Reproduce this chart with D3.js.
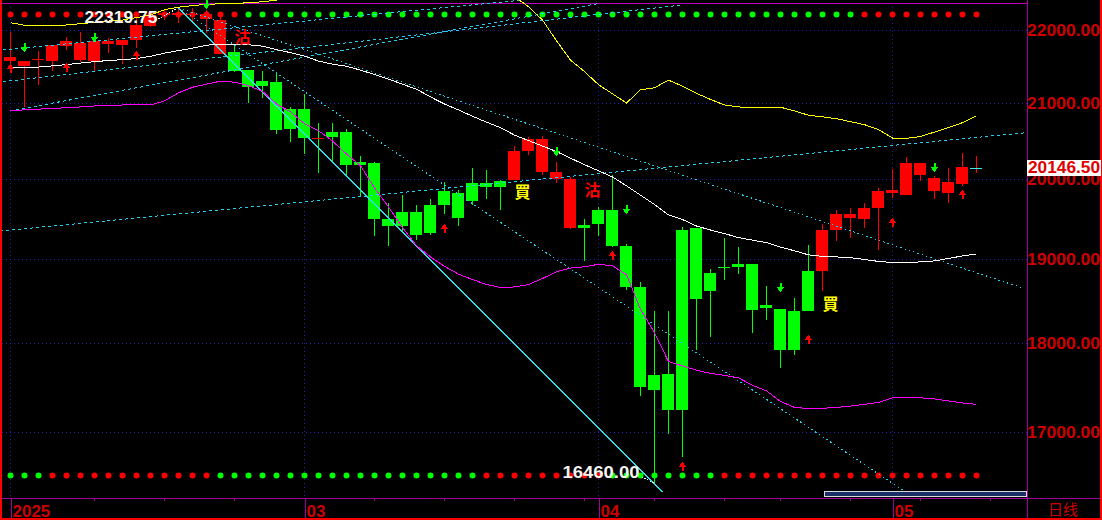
<!DOCTYPE html>
<html><head><meta charset="utf-8">
<script src="https://cdn.jsdelivr.net/npm/d3@7/dist/d3.min.js"></script>
<style>
html,body{margin:0;padding:0;background:#000;overflow:hidden;}
svg{display:block;}
</style></head><body>
<svg id="c" width="1102" height="520"></svg>
<script>
// ---------------- DATA ----------------
const dates = [
 "2025-01-31",
 "2025-02-03","2025-02-04","2025-02-05","2025-02-06","2025-02-07",
 "2025-02-10","2025-02-11","2025-02-12","2025-02-13","2025-02-14",
 "2025-02-17","2025-02-18","2025-02-19","2025-02-20","2025-02-21",
 "2025-02-24","2025-02-25","2025-02-26","2025-02-27","2025-02-28",
 "2025-03-03","2025-03-04","2025-03-05","2025-03-06","2025-03-07",
 "2025-03-10","2025-03-11","2025-03-12","2025-03-13","2025-03-14",
 "2025-03-17","2025-03-18","2025-03-19","2025-03-20","2025-03-21",
 "2025-03-24","2025-03-25","2025-03-26","2025-03-27","2025-03-28",
 "2025-03-31","2025-04-01","2025-04-02","2025-04-03","2025-04-04",
 "2025-04-07","2025-04-08","2025-04-09","2025-04-10","2025-04-11",
 "2025-04-14","2025-04-15","2025-04-16","2025-04-17",
 "2025-04-21","2025-04-22","2025-04-23","2025-04-24","2025-04-25",
 "2025-04-28","2025-04-29","2025-04-30","2025-05-01","2025-05-02",
 "2025-05-05","2025-05-06","2025-05-07","2025-05-08","2025-05-09"
];
const nextSession = "2025-05-12";

const open = [21577,21567,21581,21577,21774,21821,21567,21843,21797,21866,
 22061,22216,22244,22237,22230,22145,21701,21453,21291,21287,
 20919,20919,20532,20616,20616,20213,20209,19486,19586,19586,
 19674,19840,19824,19949,19949,19974,19986,20367,20524,20095,
 19999,19420,19611,19611,19161,18655,17467,17643,17243,19374,
 18611,18900,18940,18940,18441,18394,17924,18370,18856,19361,
 19561,19486,19624,19820,19799,20209,20012,19815,19940,20146.5];
const high = [21981,21577,21705,21797,21903,21977,21852,21890,21866,22216,
 22258,22286,22319.75,22314,22286,22230,21797,21453,21429,21397,
 20949,21122,20735,20735,20652,20301,20213,19699,19799,19674,
 19745,19961,19861,20143,20117,19986,20423,20541,20554,20213,
 20025,19495,19645,20051,19183,18722,18370,18370,19395,19374,
 18880,19261,19149,18940,18667,18394,18524,19174,19424,19599,
 19636,19699,19886,20130,20288,20209,20038,20143,20340,20301];
const low = [21415,20941,21246,21439,21719,21559,21439,21683,21535,21752,
 22047,22145,22099,22121,21959,21666,21415,21001,21071,20590,
 20476,20327,20082,20213,20021,19774,19286,19152,19349,19236,
 19299,19561,19411,19674,19749,19611,19986,20305,20051,19943,
 19368,18979,19278,19150,18619,17400,16460,16978,16734,17924,
 18077,18750,18821,18121,18264,17711,17868,18370,18607,19224,
 19261,19386,19111,19761,19799,19974,19749,19695,19915,20074];
const close = [21632,21498,21600,21788,21852,21590,21843,21807,21866,22075,
 22216,22244,22223,22216,22159,21673,21439,21208,21232,20643,
 20656,20537,20532,20551,20183,20183,19486,19411,19411,19299,
 19320,19674,19511,19715,19902,19902,20367,20524,20095,19999,
 19374,19374,19424,19161,18658,17501,17632,17243,19361,18516,
 18829,18900,18904,18382,18406,17924,18370,18856,19361,19561,
 19499,19624,19849,19853,20209,20051,19849,19961,20156,20146.5];
// trend colouring of candles: r = red, g = green, x = red body / green wick
const candleColor = "rrrrrrrrrrrrrrrr" + "gggggg" + "x" + "ggggggggggggg" + "rrrrr" +
                    "ggggggggggggggggg" + "rrrrrrrrrrrr";

const bollUp = [22107,22072,22061,22065,22075,22093,22113,22131,22145,22180,
 22216,22293,22329,22350,22371,22376,22382,22392,22406,22430,
 22470,22520,22580,22650,22720,22800,22880,22950,22990,23010,
 23000,22970,22920,22850,22740,22620,22480,22336,22145,21852,
 21584,21425,21246,21122,20997,21177,21204,21308,21225,21128,
 21046,20971,20945,20934,20932,20941,20892,20833,20813,20787,
 20748,20708,20643,20531,20528,20551,20610,20669,20735,20827];
const bollMid = [21484,21480,21487,21504,21521,21542,21563,21577,21590,21604,
 21636,21680,21715,21749,21790,21807,21807,21797,21777,21728,
 21687,21639,21570,21528,21498,21446,21384,21322,21253,21184,
 21080,20984,20905,20820,20741,20669,20570,20498,20426,20354,
 20268,20183,20104,20025,19911,19793,19674,19543,19486,19405,
 19355,19311,19261,19230,19199,19143,19099,19049,19030,19024,
 19015,18993,18969,18955,18957,18963,18975,19005,19036,19061];
const bollLow = [20896,20905,20915,20925,20934,20945,20958,20967,20971,20971,
 20971,21025,21135,21211,21253,21294,21280,21232,21156,20984,
 20879,20721,20629,20491,20321,20170,19886,19643,19386,19161,
 19024,18910,18815,18750,18690,18655,18661,18690,18762,18845,
 18889,18904,18934,18916,18809,18394,18121,17789,17739,17691,
 17654,17632,17604,17520,17458,17340,17273,17262,17264,17273,
 17288,17307,17329,17380,17385,17380,17368,17346,17323,17307];

const topDots    = "rrrrrrrrrrrrrrrrr" + "gggggggggggggggggggggggggggggggggggggggggggg" + "rrrrrrrrr";
const bottomDots = "ggg" + "rrrrrrrrrrrr" + "ggggggggggggggggggg" + "rrrrrrrrr" + "gggggggg" + "rrrrrrrrrrrrrrrrrrr";

const downArrows = [{i:1,v:21701},{i:6,v:21839},{i:14,v:22300},{i:39,v:20301},{i:44,v:19549},{i:55,v:18596},{i:66,v:20091}];
const upArrows   = [{i:0,v:21535},{i:4,v:21549},{i:9,v:21715},{i:31,v:19436},{i:43,v:19099},{i:48,v:16676},{i:57,v:18097},{i:63,v:19499},{i:68,v:19861}];
const signals = [{i:16,v:21917,t:"沽"},{i:41,v:19868,t:"沽"},{i:36,v:19849,t:"買"},{i:58,v:18471,t:"買"}];

// trend / speed lines, endpoints in (bar index, price)
const speedLines = [
 {a:{i:12,v:22319.75}, b:{i:46.57,v:16360}, dash:null},
 {a:{i:12,v:22319.75}, b:{i:63.82,v:16372}, dash:"1.5 3"},
 {a:{i:12,v:22319.75}, b:{i:72.3,v:18648}, dash:"1.5 3"}
];
const channelLines = [
 {a:{i:-0.75,v:19342}, b:{i:72.6,v:20603}},
 {a:{i:-0.54,v:21724}, b:{i:36.39,v:22427}},
 {a:{i:-0.54,v:21287}, b:{i:47.82,v:22357}},
 {a:{i:-0.04,v:20892}, b:{i:42.11,v:22385}}
];

const priceTicks = [17000,18000,19000,20000,21000,22000];
const lastPrice = 20146.50;
const highMark = {i:12, v:22319.75};
const lowMark = {i:46, v:16460};

// ---------------- DRAW ----------------
const W = 1102, H = 520, plotR = 1027, axisY = 498;
const svg = d3.select("#c").attr("shape-rendering","crispEdges");
svg.append("rect").attr("width",W).attr("height",H).attr("fill","#000");

const x = d3.scaleLinear().domain([0, 69]).range([10.5, 976.5]);
const y = d3.scaleLog().domain([17000, 22000]).range([432.3, 30.3]);

const RED="#ff0000", GREEN="#00ff00", AXIS="#a000a0", LBL="#cc0000";
const NUMFONT = "bold 17px 'Liberation Sans', Arial, sans-serif";

svg.append("defs").append("clipPath").attr("id","clip")
  .append("rect").attr("x",2).attr("y",0).attr("width",plotR-2).attr("height",axisY);

// horizontal grid
svg.append("g").selectAll("line").data(priceTicks).join("line")
  .attr("x1",2).attr("x2",plotR).attr("y1",d=>Math.round(y(d))+0.5).attr("y2",d=>Math.round(y(d))+0.5)
  .attr("stroke","#2020b0").attr("stroke-dasharray","1 3");

// month & week ticks
const parse = d3.utcParse("%Y-%m-%d");
const allDates = dates.concat([nextSession]).map(parse);
const monthIdx = [], weekIdx = [];
allDates.forEach((d,i)=>{
  const newMonth = i===0 || d.getUTCMonth()!==allDates[i-1].getUTCMonth();
  if (newMonth) {
    if (i<dates.length && (monthIdx.length===0 || i - monthIdx[monthIdx.length-1] >= 5)) monthIdx.push(i);
  } else if (d.getUTCDay()===1 || (d - allDates[i-1]) > 3*86400000) weekIdx.push(i);
});
svg.append("g").selectAll("line").data(monthIdx).join("line")
  .attr("x1",i=>x(i)).attr("x2",i=>x(i)).attr("y1",3).attr("y2",axisY)
  .attr("stroke","#2020b0").attr("stroke-dasharray","1 3");

// frame
svg.append("line").attr("x1",2).attr("x2",plotR).attr("y1",3.5).attr("y2",3.5).attr("stroke","#c000c0");
svg.append("line").attr("x1",plotR+0.5).attr("x2",plotR+0.5).attr("y1",0).attr("y2",518).attr("stroke",AXIS);
svg.append("line").attr("x1",2).attr("x2",1100).attr("y1",axisY+0.5).attr("y2",axisY+0.5).attr("stroke",AXIS);
svg.append("rect").attr("x",0).attr("y",0).attr("width",2).attr("height",H).attr("fill",RED);
svg.append("rect").attr("x",1100).attr("y",0).attr("width",2).attr("height",H).attr("fill",RED);
svg.append("rect").attr("x",0).attr("y",518).attr("width",W).attr("height",2).attr("fill",RED);

// x axis
const xAxis = d3.axisBottom(x).tickValues(monthIdx).tickSize(20)
  .tickFormat(i => i===0 ? String(allDates[i].getUTCFullYear()) : d3.utcFormat("%m")(allDates[i]));
const gx = svg.append("g").attr("transform",`translate(0,${axisY})`).call(xAxis);
gx.select(".domain").remove();
gx.selectAll(".tick line").attr("stroke",AXIS);
gx.selectAll(".tick text").attr("x",1.5).attr("y",19).attr("dy",0).attr("text-anchor","start")
  .attr("fill",LBL).style("font",NUMFONT);
svg.append("g").selectAll("line").data(weekIdx).join("line")
  .attr("x1",i=>x(i)).attr("x2",i=>x(i)).attr("y1",axisY+1).attr("y2",axisY+3).attr("stroke",AXIS);
svg.append("text").attr("x",1048).attr("y",515).attr("fill",LBL)
  .style("font","15px 'Noto Sans CJK SC', sans-serif").text("日线");

// scroll box
svg.append("rect").attr("x",824.5).attr("y",491.5).attr("width",202).attr("height",5)
  .attr("fill","#1a2f66").attr("stroke","#d8d8d8");

// y axis labels
const yAxis = d3.axisRight(y).tickValues(priceTicks).tickFormat(d3.format(".2f")).tickSize(0);
const gy = svg.append("g").attr("transform",`translate(${plotR},0)`).call(yAxis);
gy.select(".domain").remove();
gy.selectAll(".tick text").attr("x",0).attr("fill",LBL)
  .attr("textLength",73).attr("lengthAdjust","spacingAndGlyphs")
  .style("font",NUMFONT);

const plot = svg.append("g").attr("clip-path","url(#clip)");

// dots rows
const dotColor = c => c==="r" ? RED : GREEN;
plot.append("g").selectAll("circle").data(topDots.split("")).join("circle")
  .attr("cx",(d,i)=>x(i)).attr("cy",14.5).attr("r",3).attr("fill",dotColor).attr("shape-rendering","auto");
plot.append("g").selectAll("circle").data(bottomDots.split("")).join("circle")
  .attr("cx",(d,i)=>x(i)).attr("cy",475.5).attr("r",3).attr("fill",dotColor).attr("shape-rendering","auto");

// candles
const idx = d3.range(open.length);
const cg = plot.append("g");
idx.forEach(i=>{
  const c = candleColor[i];
  const bodyCol = c==="g" ? GREEN : RED;
  const wickCol = c==="r" ? RED : GREEN;
  const xc = x(i);
  const yh = Math.round(y(high[i])), yl = Math.round(y(low[i]));
  cg.append("rect").attr("x",xc-0.5).attr("y",yh).attr("width",1).attr("height",Math.max(1,yl-yh)).attr("fill",wickCol);
  const t = Math.round(y(Math.max(open[i],close[i]))), b = Math.round(y(Math.min(open[i],close[i])));
  const last = i===open.length-1;
  cg.append("rect").attr("x",xc-6.5).attr("y",t).attr("width",12).attr("height",Math.max(1,b-t))
    .attr("fill", last ? "#40e8f0" : bodyCol);
});

// line helpers
const seg = d3.line().x(p=>x(p.i)).y(p=>y(p.v));
const lg = plot.append("g").attr("fill","none");
channelLines.forEach(l=>{
  lg.append("path").attr("d",seg([l.a,l.b])).attr("stroke","#20d0f0").attr("stroke-dasharray","3 3");
});
speedLines.forEach(l=>{
  lg.append("path").attr("d",seg([l.a,l.b])).attr("stroke", l.dash ? "#20d0f0" : "#30e0e8")
    .attr("stroke-dasharray", l.dash);
});

// bollinger lines
const bl = d3.line().x((d,i)=>x(i)).y(d=>y(d));
lg.append("path").attr("d",bl(bollUp)).attr("stroke","#ffff00");
lg.append("path").attr("d",bl(bollMid)).attr("stroke","#ffffff");
lg.append("path").attr("d",bl(bollLow)).attr("stroke","#ff00ff");

// arrows
const ag = plot.append("g");
downArrows.forEach(a=>{
  const xc=x(a.i), yt=Math.round(y(a.v));
  ag.append("path").attr("fill",GREEN)
    .attr("d",`M${xc-1},${yt-9}H${xc+1}V${yt-5}H${xc+4}L${xc},${yt}L${xc-4},${yt-5}H${xc-1}Z`);
});
upArrows.forEach(a=>{
  const xc=x(a.i), yt=Math.round(y(a.v));
  ag.append("path").attr("fill",RED)
    .attr("d",`M${xc},${yt}L${xc+4},${yt+5}H${xc+1}V${yt+9}H${xc-1}V${yt+5}H${xc-4}Z`);
});

// signal characters
plot.append("g").selectAll("text").data(signals).join("text")
  .attr("x",d=>x(d.i)).attr("y",d=>y(d.v)).attr("dominant-baseline","central")
  .attr("fill",d=>d.t==="買" ? "#ffff00" : RED)
  .style("font","bold 16px 'Noto Sans CJK TC', sans-serif").text(d=>d.t);

// high / low labels
const hx = x(highMark.i), hy = y(highMark.v);
svg.append("path").attr("d",`M${hx-20},${hy+11}L${hx-2},${hy+1}`).attr("stroke","#fff").attr("stroke-dasharray","1.5 1.5").attr("fill","none");
svg.append("text").attr("x",hx-21).attr("y",hy+10).attr("dominant-baseline","central").attr("text-anchor","end")
  .attr("textLength",73).attr("lengthAdjust","spacingAndGlyphs")
  .attr("fill","#f4f4f4").style("font",NUMFONT).text(d3.format(".2f")(highMark.v));
const lx = x(lowMark.i), ly = y(lowMark.v);
svg.append("path").attr("d",`M${lx-13},${ly-6}L${lx-1},${ly}`).attr("stroke","#fff").attr("stroke-dasharray","1.5 1.5").attr("fill","none");
svg.append("text").attr("x",lx-15).attr("y",ly-10.5).attr("dominant-baseline","central").attr("text-anchor","end")
  .attr("textLength",77).attr("lengthAdjust","spacingAndGlyphs")
  .attr("fill","#f4f4f4").style("font",NUMFONT).text(d3.format(".2f")(lowMark.v));

// last price box
const ly2 = y(lastPrice);
svg.append("rect").attr("x",1027).attr("y",Math.round(ly2)-8).attr("width",74).attr("height",16).attr("fill","#fff");
svg.append("text").attr("x",1028).attr("y",ly2).attr("dominant-baseline","central").attr("fill","#e00000")
  .attr("textLength",72).attr("lengthAdjust","spacingAndGlyphs")
  .style("font",NUMFONT).text(d3.format(".2f")(lastPrice));
</script>
</body></html>
